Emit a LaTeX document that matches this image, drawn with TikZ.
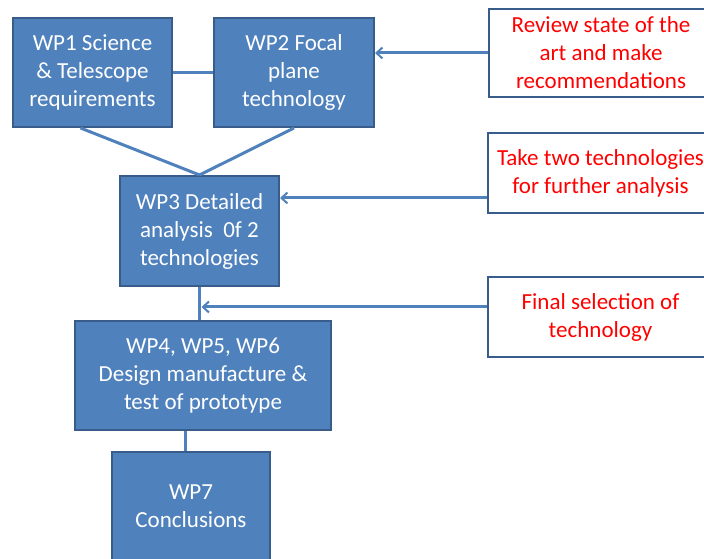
\documentclass[tikz,border=0pt]{standalone}
\usepackage{fontspec}
\setmainfont{Carlito}
\usetikzlibrary{arrows.meta}
\definecolor{wpfill}{HTML}{4F81BD}
\definecolor{wpedge}{HTML}{385D8A}
\begin{document}
\begin{tikzpicture}[x=1pt,y=1pt,
  wp/.style={draw=wpedge,line width=2pt,fill=wpfill,text=white,align=center,
    font=\fontsize{23}{28}\selectfont,inner sep=0pt},
  note/.style={draw=wpedge,line width=2pt,fill=white,text=red,align=center,
    font=\fontsize{23}{28}\selectfont,inner sep=0pt,minimum width=225,minimum height=80},
  link/.style={draw=wpfill,line width=3pt},
  feed/.style={link,-{Straight Barb[length=6pt,width=11pt,line width=2pt]}}]
  \clip (0,0) rectangle (704,559);
  % Work package boxes
  \node[wp,minimum width=159,minimum height=109] (wp1) at (92.5,486.5) {WP1 Science\\\& Telescope\\requirements};
  \node[wp,minimum width=160,minimum height=109] (wp2) at (294,486.5) {WP2 Focal\\plane\\technology};
  \node[wp,minimum width=159,minimum height=110] (wp3) at (199.5,328) {WP3 Detailed\\analysis~ 0f 2\\technologies};
  \node[wp,minimum width=256,minimum height=109] (wp4) at (203,183.5) {WP4, WP5, WP6\\Design manufacture \&\\test of prototype};
  \node[wp,minimum width=158,minimum height=109] (wp7) at (191,52.5) {WP7\\Conclusions};
  % Notes on the right
  \node[note,minimum height=88] (review) at (601,506) {Review state of the\\art and make\\recommendations};
  \node[note] (take) at (600.5,386) {Take two technologies\\for further analysis};
  \node[note] (final) at (600.5,242) {Final selection of\\technology};
  % Connectors
  \draw[link] (wp1.east) -- (wp2.west);
  \draw[link] ([xshift=-12pt]wp1.south) -- (wp3.north);
  \draw[link] (wp2.south) -- (wp3.north);
  \draw[link] (wp3.south) -- (wp3.south |- wp4.north);
  \draw[link] ([xshift=-6pt]wp7.north) -- ([xshift=-6pt]wp7.north |- wp4.south);
  \draw[feed] (review.west) -- (review.west -| wp2.east);
  \draw[feed] ([yshift=-25pt]take.west) -- ([yshift=-25pt]take.west -| wp3.east);
  \draw[feed] ([yshift=10pt]final.west) -- ([yshift=10pt,xshift=2pt]final.west -| wp3.south);
\end{tikzpicture}
\end{document}
